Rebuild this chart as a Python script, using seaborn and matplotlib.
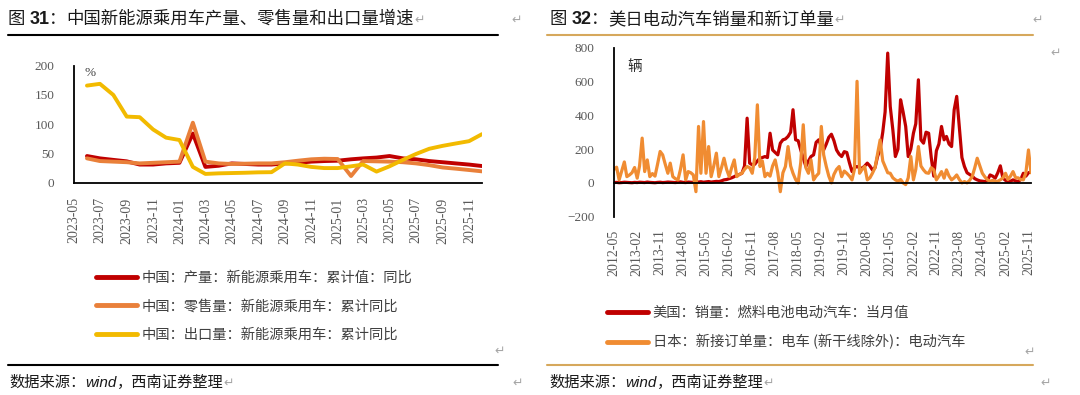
import numpy as np
import pandas as pd
import matplotlib
matplotlib.use('Agg')
import matplotlib.pyplot as plt
from matplotlib.lines import Line2D
import seaborn as sns

sns.set_style('white')
CJK = ['Noto Sans CJK SC', 'DejaVu Sans']
plt.rcParams['font.family'] = CJK
plt.rcParams['axes.unicode_minus'] = True

# ---------------- left chart data (cumulative YoY, %) ----------------
left_dates = pd.date_range('2023-05-31', periods=31, freq='ME')
left_tick_dates = pd.date_range('2023-05-01', periods=16, freq='2MS')
left_tick_labels = ['2023-05', '2023-07', '2023-09', '2023-11', '2024-01', '2024-03',
                    '2024-05', '2024-07', '2024-09', '2024-11', '2025-01', '2025-03',
                    '2025-05', '2025-07', '2025-09', '2025-11']
left_names = ['中国：产量：新能源乘用车：累计值：同比',
              '中国：零售量：新能源乘用车：累计同比',
              '中国：出口量：新能源乘用车：累计同比']
production_yoy = [45.6, 41.6, 39, 36.5, 31, 31, 33, 34, 84, 27, 29, 33, 32, 31, 31, 33,
                  34, 36, 37, 37.6, 40, 41.6, 43, 45.6, 41.6, 40, 37, 35, 33, 31, 28.5]
retail_yoy = [41.6, 37, 36, 35, 33, 34, 35, 36, 102.6, 36, 33, 32, 32.5, 33, 33, 35,
              37.6, 40, 41, 40.5, 11.4, 37, 36.5, 36, 35, 33, 30, 26, 24, 21.7, 19.4]
export_yoy = [166, 169, 150, 113, 112, 91, 77, 73, 27, 15, 16, 16.5, 17, 17.7, 18, 33,
              31, 27, 25, 25, 28, 31, 19, 28, 39, 49, 58, 63, 67, 71, 83]

# ---------------- right chart data (units per month) ----------------
right_dates = pd.date_range('2012-05-01', periods=164, freq='MS')
right_tick_dates = pd.date_range('2012-05-01', periods=19, freq='9MS')
right_tick_labels = ['2012-05', '2013-02', '2013-11', '2014-08', '2015-05', '2016-02',
                     '2016-11', '2017-08', '2018-05', '2019-02', '2019-11', '2020-08',
                     '2021-05', '2022-02', '2022-11', '2023-08', '2024-05', '2025-02',
                     '2025-11']
right_names = ['美国：销量：燃料电池电动汽车：当月值',
               '日本：新接订单量：电车 (新干线除外)：电动汽车']
us_fcev_sales = [2, 3, 1, 2, 4, 3, 2, 1, 3, 2, 4, 3, 2, 5, 3, 2, 1, 3, 4, 2,
                 3, 5, 4, 3, 2, 4, 6, 3, 2, 5, 4, 3, 6, 5, 7, 4, 6, 8, 5, 7,
                 9, 8, 12, 18, 20, 25, 30, 37, 45, 50, 57, 100, 383, 117, 107, 110, 130, 146, 150, 156,
                 150, 294, 195, 180, 166, 235, 255, 260, 275, 300, 433, 255, 250, 195, 146, 97, 130, 156, 166, 240,
                 255, 215, 195, 230, 270, 288, 250, 195, 170, 156, 185, 180, 120, 67, 90, 97, 90, 87, 100, 117,
                 100, 77, 90, 156, 200, 300, 420, 768, 452, 314, 156, 200, 492, 420, 334, 156, 200, 294, 350, 610,
                 255, 235, 300, 294, 150, 40, 190, 230, 334, 255, 275, 230, 215, 433, 512, 334, 150, 97, 60, 50,
                 40, 25, 18, 12, 10, 8, 15, 47, 40, 28, 60, 101, 28, 15, 8, 10, 18, 12, 8, 20,
                 57, 40, 60, 65]
jp_ev_orders = [80, 93, 18, 70, 124, 37, 47, 60, 91, 28, 100, 265, 67, 136, 37, 55, 40, 110, 186, 166,
                110, 57, 117, 37, 25, 18, 80, 166, 18, 67, 60, 47, -52, 334, 57, 363, 57, 215, 37, 100,
                176, 37, 90, 146, 80, 37, 90, 136, 37, 50, 57, 80, 97, 90, 57, 150, 462, 97, 130, 37,
                57, 40, 100, 136, 60, -52, 60, 97, 215, 100, 57, 20, 0, 120, 344, 90, 57, 136, 18, 40,
                57, 334, 166, 97, 40, 0, 50, 80, 97, 37, 70, 57, 40, 18, 80, 601, 57, 80, 97, 18,
                30, 57, 90, 170, 255, 130, 97, 60, 57, 30, 18, 10, 20, 0, -10, 30, 156, 18, 80, 215,
                100, 77, 60, 57, 90, 77, 18, 40, 67, 28, 77, 40, 18, 30, 47, 20, 0, 8, 0, 15,
                37, 90, 146, 100, 57, 35, 18, 10, 15, 8, 10, 18, 30, 57, 20, 40, 67, 30, 30, 20,
                18, 60, 195, 60]

RED = '#C00000'
ORANGE_L = '#E9803A'
YELLOW = '#F2BA00'
ORANGE_R = '#F08C32'
GOLD = '#D6A85C'
TICK_GREY = '#595959'
ARROW_GREY = '#A6A6A6'

W, H = 1080, 395


def fx(x):
    return x / W


def fy(y):
    return 1 - y / H


fig = plt.figure(figsize=(W / 100, H / 100), dpi=100)
fig.patch.set_facecolor('white')


def style_axes(ax, xpad):
    sns.despine(ax=ax)
    for side in ['left', 'bottom']:
        ax.spines[side].set_color('black')
        ax.spines[side].set_linewidth(1.3)
    ax.tick_params(axis='y', direction='out', length=3, width=1.2, color='black',
                   labelsize=9.5, labelcolor=TICK_GREY, pad=11)
    ax.tick_params(axis='x', direction='inout', length=5, width=1.2, color='black',
                   labelsize=10, labelcolor=TICK_GREY, pad=xpad, labelrotation=90)
    for lab in ax.get_xticklabels() + ax.get_yticklabels():
        lab.set_fontfamily('Liberation Serif')
    ax.set_xlabel('')
    ax.set_ylabel('')
    ax.grid(False)


# ---------------- left chart ----------------
ax1 = fig.add_axes([fx(74), fy(182.7), 408 / W, 117 / H])
left_df = pd.DataFrame({
    'date': np.tile(left_dates, 3),
    'value': production_yoy + retail_yoy + export_yoy,
    'series': np.repeat(left_names, len(left_dates)),
})
left_colors = [RED, ORANGE_L, YELLOW]
sns.lineplot(data=left_df, x='date', y='value', hue='series', hue_order=left_names,
             palette=left_colors, linewidth=2.8, legend=False, ax=ax1)
ax1.set_xlim(left_tick_dates[0], left_dates[-1])
ax1.set_ylim(0, 200)
ax1.set_yticks([0, 50, 100, 150, 200])
ax1.set_xticks(left_tick_dates)
ax1.set_xticklabels(left_tick_labels)
style_axes(ax1, 8)
ax1.text(0.04, 0.985, '%', transform=ax1.transAxes, fontsize=9.5, color='#404040',
         ha='center', va='top', family='Liberation Serif')

# ---------------- right chart ----------------
ax2 = fig.add_axes([fx(614), fy(216.7), 417 / W, 169 / H])
right_df = pd.DataFrame({
    'date': np.tile(right_dates, 2),
    'value': us_fcev_sales + jp_ev_orders,
    'series': np.repeat(right_names, len(right_dates)),
})
right_colors = [RED, ORANGE_R]
sns.lineplot(data=right_df, x='date', y='value', hue='series', hue_order=right_names,
             palette=right_colors, linewidth=2.3, legend=False, ax=ax2)
ax2.spines['bottom'].set_position(('data', 0))
ax2.set_xlim(right_dates[0], right_dates[-1])
ax2.set_ylim(-200, 800)
ax2.set_yticks([-200, 0, 200, 400, 600, 800])
ax2.set_xticks(right_tick_dates)
ax2.set_xticklabels(right_tick_labels)
style_axes(ax2, 31)
ax2.text(0.05, 0.925, '辆', transform=ax2.transAxes, fontsize=10.5, color='#303030',
         ha='center', va='top')

# ---------------- legends ----------------
leg_kw = dict(loc='upper left', frameon=False, fontsize=10.3, handlelength=2.9,
              handletextpad=0.3, labelspacing=1.0, borderpad=0, borderaxespad=0,
              labelcolor='#404040')
h1 = [Line2D([], [], color=c, lw=3.5, solid_capstyle='round') for c in left_colors]
fig.legend(h1, left_names, bbox_to_anchor=(fx(96), fy(271)), **leg_kw)
h2 = [Line2D([], [], color=c, lw=3.5, solid_capstyle='round') for c in right_colors]
fig.legend(h2, right_names, bbox_to_anchor=(fx(607), fy(306)), **leg_kw)

# ---------------- frame lines ----------------
for (x0, x1, y, c) in [(8, 498, 35, 'black'), (8, 498, 365, 'black'),
                       (547, 1033, 35, GOLD), (547, 1033, 365, GOLD)]:
    fig.add_artist(Line2D([fx(x0), fx(x1)], [fy(y), fy(y)], color=c, lw=1.5,
                          transform=fig.transFigure))

# ---------------- titles and source notes ----------------
renderer = fig.canvas.get_renderer()


def text_run(x, y, pieces):
    for s, kw in pieces:
        t = fig.text(fx(x), fy(y), s, va='baseline', ha='left', **kw)
        bb = t.get_window_extent(renderer)
        x = bb.x1


title_kw = dict(fontsize=12.5, color='#1A1A1A', family=CJK)
num_kw = dict(fontsize=13, color='#1A1A1A', family='Liberation Sans', weight='bold')
arrow_kw = dict(fontsize=9, color=ARROW_GREY, family=['DejaVu Sans'])
src_kw = dict(fontsize=11, color='#1A1A1A', family=CJK)
wind_kw = dict(fontsize=11, color='#1A1A1A', family='Liberation Sans', style='italic')

text_run(8, 24, [('图 ', title_kw), ('31', num_kw), ('：', title_kw),
                 ('中国新能源乘用车产量、零售量和出口量增速', title_kw), ('↵', arrow_kw)])
text_run(550, 24, [('图 ', title_kw), ('32', num_kw), ('：', title_kw),
                   ('美日电动汽车销量和新订单量', title_kw), ('↵', arrow_kw)])
text_run(9, 387, [('数据来源：', src_kw), ('wind', wind_kw), ('，西南证券整理', src_kw),
                  ('↵', arrow_kw)])
text_run(549, 387, [('数据来源：', src_kw), ('wind', wind_kw), ('，西南证券整理', src_kw),
                    ('↵', arrow_kw)])

for (x, y) in [(511, 24), (494, 355), (512, 387), (1032, 24), (1050, 57), (1024, 356),
               (1040, 387)]:
    fig.text(fx(x), fy(y), '↵', ha='left', va='baseline', **arrow_kw)

fig.savefig('out.png', dpi=100, facecolor='white')
